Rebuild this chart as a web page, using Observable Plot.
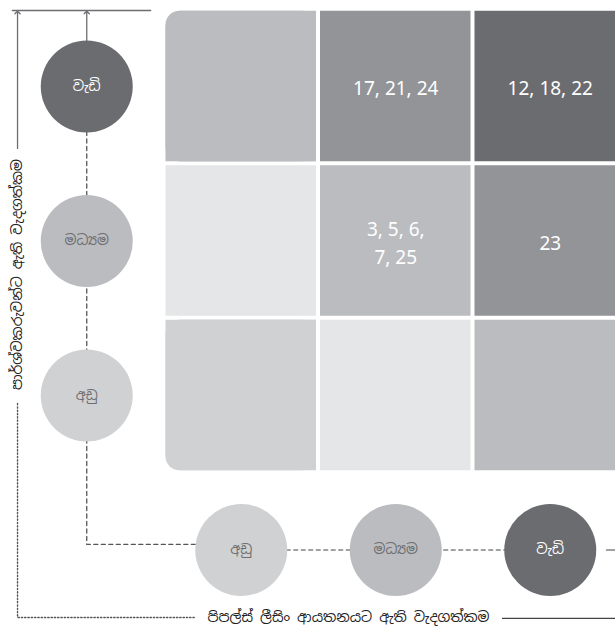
<!DOCTYPE html>
<html><head><meta charset="utf-8">
<script src="https://cdn.jsdelivr.net/npm/d3@7"></script>
<script src="https://cdn.jsdelivr.net/npm/@observablehq/plot@0.6"></script>
<style>
body{margin:0;background:#fff;}
#chart{width:615px;height:628px;overflow:hidden;position:relative;}
#chart svg{overflow:hidden;}
</style></head><body><div id="chart"></div>
<script>
// ---- data ----
const levels = ["අඩු", "මධ්‍යම", "වැඩි"];          // low, medium, high
const levelShade = [0, 2, 4];                          // shade index of each level circle
const rowLevels = ["වැඩි", "මධ්‍යම", "අඩු"];       // stakeholder importance, top to bottom
const colLevels = ["අඩු", "මධ්‍යම", "වැඩි"];       // company importance, left to right
const cellLabels = [
  ["", "17, 21, 24", "12, 18, 22"],
  ["", "3, 5, 6,\n7, 25", "23"],
  ["", "", ""]
];
const cellShade = [
  [2, 3, 4],
  [1, 2, 3],
  [0, 1, 2]
];
const yTitle = "පාර්ශ්වකරුවන්ට ඇති වැදගත්කම";
const xTitle = "පිපල්ස් ලීසිං ආයතනයට ඇති වැදගත්කම";

// ---- styles / layout (grid units: one unit = one matrix step) ----
const shadeColors = ["#d0d1d3", "#e5e6e8", "#bbbcc0", "#939498", "#6b6c70"];
const FONT = "'Noto Sans Sinhala', 'Noto Sans', 'DejaVu Sans', sans-serif";
const frame = {left: -0.448, top: -0.492, topEnd: 0.413, arrowTip: -0.479,
  leftSolidEnd: 0.401, leftDotStart: 2.052, bottom: 3.437, bottomDotEnd: 0.704,
  bottomSolidStart: 2.691, bottomSolidY: 3.443, elbowY: 2.964, rightStub: 3.364,
  yTitleY: 1.217, xTitleX: 1.694, edge: 3.6, topStart: -0.481};

// ---- derived tables ----
const cells = [];
rowLevels.forEach((rl, r) => colLevels.forEach((cl, c) => cells.push({
  r, c, row: rl, col: cl, label: cellLabels[r][c], shade: cellShade[r][c],
  corner: c === 0 && r === 0 ? "tl" : c === 0 && r === rowLevels.length - 1 ? "bl" : null
})));
const plain = cells.filter(d => !d.corner);
const tl = cells.filter(d => d.corner === "tl");
const bl = cells.filter(d => d.corner === "bl");

const leftCircles = rowLevels.map((name, r) => ({name, r, shade: levelShade[levels.indexOf(name)]}));
const bottomCircles = colLevels.map((name, c) => ({name, c, shade: levelShade[levels.indexOf(name)]}));

const rx1 = d => d.c + 0.5, rx2 = d => d.c + 1.5, ry1 = d => d.r - 0.5, ry2 = d => d.r + 0.5;
const rectOpts = extra => ({x1: rx1, x2: rx2, y1: ry1, y2: ry2, fill: "shade", inset: 2, ...extra});

const P = a => a.map(([x, y]) => ({x, y}));

const plot = Plot.plot({
  width: 615, height: 628, margin: 0,
  style: {fontFamily: FONT, background: "#fff"},
  x: {type: "linear", domain: [-0.5, 3.5], range: [9, 627], axis: null},
  y: {type: "linear", domain: [-0.5, 3.5], range: [8.75, 626.75], axis: null},
  color: {type: "ordinal", domain: [0, 1, 2, 3, 4], range: shadeColors},
  marks: [
    // frame: top line and arrows
    Plot.line(P([[frame.topStart, frame.top], [frame.topEnd, frame.top]]), {x: "x", y: "y", stroke: "#6d6e71", strokeWidth: 1.5}),
    Plot.line(P([[frame.left, frame.leftSolidEnd], [frame.left, frame.arrowTip]]), {x: "x", y: "y", stroke: "#6d6e71", strokeWidth: 1.3, markerEnd: "arrow"}),
    Plot.line(P([[0, 0], [0, frame.arrowTip]]), {x: "x", y: "y", stroke: "#6d6e71", strokeWidth: 1.3, markerEnd: "arrow"}),
    // dotted outer frame
    Plot.line(P([[frame.left, frame.leftDotStart], [frame.left, frame.bottom], [frame.bottomDotEnd, frame.bottom]]),
      {x: "x", y: "y", stroke: "#555", strokeWidth: 1.4, strokeDasharray: "1.3,2"}),
    Plot.line(P([[frame.bottomSolidStart, frame.bottomSolidY], [frame.edge, frame.bottomSolidY]]),
      {x: "x", y: "y", stroke: "#444", strokeWidth: 1.2}),
    // dashed connectors between level circles
    Plot.line(P([[0, 0], [0, frame.elbowY], [1, frame.elbowY]]), {x: "x", y: "y", stroke: "#555", strokeWidth: 1.3, strokeDasharray: "4,3.5"}),
    Plot.line(P([[1, 3], [3, 3]]), {x: "x", y: "y", stroke: "#444", strokeWidth: 1.2, strokeDasharray: "4,3.5"}),
    Plot.line(P([[frame.rightStub, 3], [frame.edge, 3]]), {x: "x", y: "y", stroke: "#444", strokeWidth: 1.2}),
    // matrix cells
    Plot.rect(plain, rectOpts({})),
    Plot.rect(tl, rectOpts({rx: 14})),
    Plot.rect(tl, rectOpts({insetLeft: 16})),
    Plot.rect(tl, rectOpts({insetTop: 16})),
    Plot.rect(bl, rectOpts({rx: 14})),
    Plot.rect(bl, rectOpts({insetLeft: 16})),
    Plot.rect(bl, rectOpts({insetBottom: 16})),
    Plot.text(cells, {x: d => d.c + 1, y: "r", text: "label", fill: "white", fontSize: 19, lineHeight: 1.45, fontFamily: "'Noto Sans', sans-serif"}),
    // level circles
    Plot.dot(leftCircles, {x: () => 0, y: "r", r: 46, fill: "shade", stroke: null}),
    Plot.dot(bottomCircles, {x: d => d.c + 1, y: () => 3, r: 46, fill: "shade", stroke: null}),
    Plot.text(leftCircles, {x: () => 0, y: "r", text: "name", fontSize: 14, fill: d => d.shade === 4 ? "#ffffff" : "#6d6e71"}),
    Plot.text(bottomCircles, {x: d => d.c + 1, y: () => 3, text: "name", fontSize: 14, fill: d => d.shade === 4 ? "#ffffff" : "#6d6e71"}),
    // axis titles
    Plot.text([yTitle], {x: () => frame.left, y: () => frame.yTitleY, text: d => d, rotate: -90, fontSize: 14, fill: "#222"}),
    Plot.text([xTitle], {x: () => frame.xTitleX, y: () => frame.bottom, text: d => d, fontSize: 14, fill: "#222"})
  ]
});
document.getElementById("chart").appendChild(plot);
</script>
</body></html>
